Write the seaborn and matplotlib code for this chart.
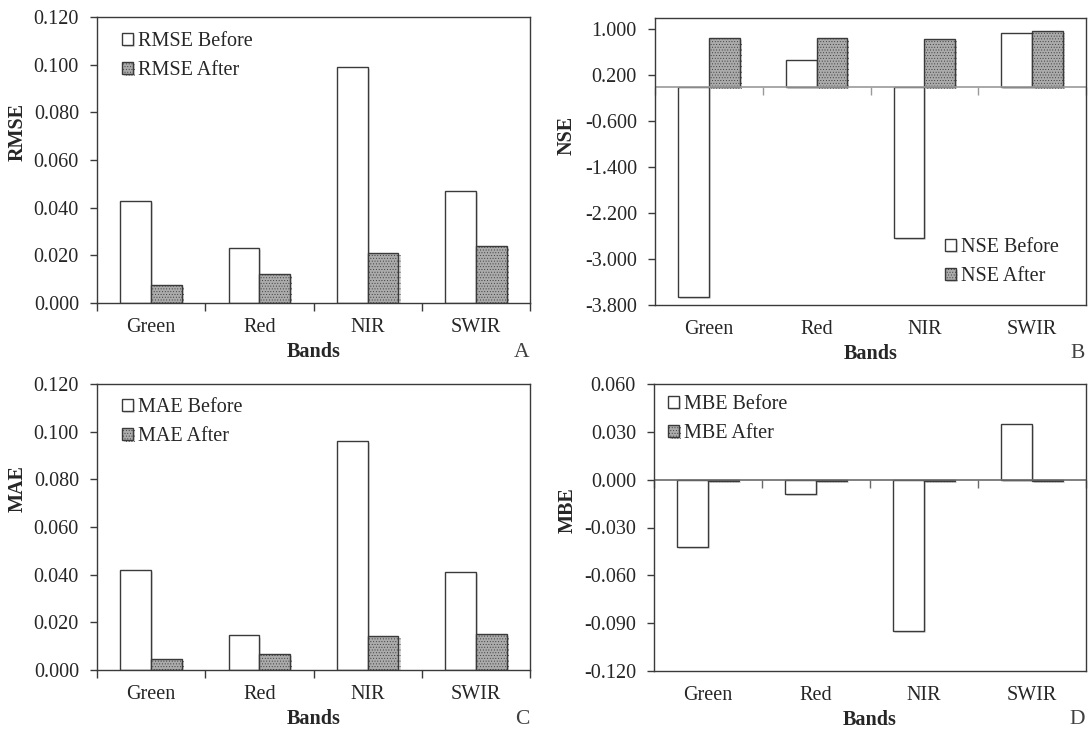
import matplotlib
matplotlib.use("Agg")
import matplotlib.pyplot as plt
import matplotlib.patheffects as pe
import seaborn as sns
import pandas as pd
import numpy as np

bands = ["Green", "Red", "NIR", "SWIR"]

rmse_before = [0.043, 0.023, 0.099, 0.047]
rmse_after = [0.0077, 0.012, 0.021, 0.0238]

nse_before = [-3.66, 0.46, -2.63, 0.93]
nse_after = [0.85, 0.85, 0.84, 0.98]

mae_before = [0.042, 0.0145, 0.096, 0.041]
mae_after = [0.0047, 0.0068, 0.0143, 0.0150]

mbe_before = [-0.042, -0.009, -0.095, 0.035]
mbe_after = [-0.0008, -0.0006, -0.0006, -0.0006]

panels = [
    ("RMSE", rmse_before, rmse_after, (0.0, 0.12), np.arange(0.0, 0.1201, 0.02), "A"),
    ("NSE", nse_before, nse_after, (-3.8, 1.2), np.arange(-3.8, 1.01, 0.8), "B"),
    ("MAE", mae_before, mae_after, (0.0, 0.12), np.arange(0.0, 0.1201, 0.02), "C"),
    ("MBE", mbe_before, mbe_after, (-0.12, 0.06), np.arange(-0.12, 0.0601, 0.03), "D"),
]

sns.set_style("white")
plt.rcParams["font.family"] = ["Liberation Serif", "DejaVu Serif"]
plt.rcParams["axes.unicode_minus"] = False
plt.rcParams["hatch.linewidth"] = 0.35

W, H = 1090, 735
fig = plt.figure(figsize=(W / 100, H / 100), dpi=100)

# axes boxes in pixels: left, right, top, bottom
boxes = [(97, 530, 17, 303), (655, 1086, 18, 305), (97, 530, 384, 670), (654, 1086, 384, 671)]
legend_anchor = [(0.058, 0.948), (0.673, 0.233), (0.058, 0.951), (0.032, 0.962)]
ylabel_pos = [(-0.160, 0.598), (-0.181, 0.592), (-0.160, 0.636), (-0.176, 0.56)]
zero_colors = [None, "#9a9a9a", None, "#6a6a6a"]

edge = "#3a3a3a"
fs = 14.5
shadow = [pe.SimplePatchShadow(offset=(1.5, -1.5), shadow_rgbFace="#c8c8c8", alpha=0.6), pe.Normal()]

for i, (name, before, after, ylim, yticks, letter) in enumerate(panels):
    l, r, t, b = boxes[i]
    ax = fig.add_axes([l / W, (H - b) / H, (r - l) / W, (b - t) / H])
    df = pd.DataFrame({
        "band": bands * 2,
        "series": [f"{name} Before"] * 4 + [f"{name} After"] * 4,
        "value": list(before) + list(after),
    })
    sns.barplot(data=df, x="band", y="value", hue="series",
                palette=["white", "#ababab"], edgecolor=edge, linewidth=1.0,
                width=0.57, saturation=1, legend=False, ax=ax)
    for p in ax.containers[1]:
        p.set_hatch("......")
    for c in ax.containers:
        for p in c:
            p.set_path_effects(shadow)
    ax.set_xlim(-0.5, 3.5)
    ax.set_ylim(*ylim)
    ax.set_yticks(yticks)
    ax.set_yticklabels([f"{v:.3f}" for v in yticks])
    for s in ax.spines.values():
        s.set_visible(True)
        s.set_color(edge)
        s.set_linewidth(1.0)
    ax.tick_params(axis="y", direction="out", length=5, width=1.0, color=edge,
                   pad=8, labelsize=fs, left=True)
    ax.tick_params(axis="x", which="major", length=0, pad=11, labelsize=fs, bottom=True)

    boundaries = [-0.5, 0.5, 1.5, 2.5, 3.5]
    if ylim[0] == 0:
        ax.set_xticks(boundaries, minor=True)
        ax.tick_params(axis="x", which="minor", direction="out", length=6, width=1.0,
                       color=edge, bottom=True)
    else:
        ax.axhline(0, color=zero_colors[i], linewidth=1.2, zorder=1)
        pos = (0 - ylim[0]) / (ylim[1] - ylim[0])
        sec = ax.secondary_xaxis(pos)
        sec.set_alignment("bottom")
        sec.set_xticks(boundaries)
        sec.tick_params(axis="x", direction="out", length=6, width=1.0, color=zero_colors[i],
                        labelbottom=False, labeltop=False)
        for s in sec.spines.values():
            s.set_visible(False)

    ax.set_xlabel("Bands", fontsize=fs, fontweight="bold")
    ax.xaxis.set_label_coords(0.5, -0.135)
    ax.set_ylabel(name, fontsize=fs, fontweight="bold")
    ax.yaxis.set_label_coords(*ylabel_pos[i])

    ax.legend(list(ax.containers), [f"{name} Before", f"{name} After"],
              loc="upper left", bbox_to_anchor=legend_anchor[i], borderaxespad=0,
              borderpad=0, frameon=False, fontsize=fs, handlelength=0.55,
              handleheight=0.55, handletextpad=0.25, labelspacing=0.5)

    fig.text((r - 1) / W, 1 - (b + 49) / H, letter, fontsize=fs + 1, ha="right",
             va="center", color="#404040")

fig.savefig("out.png", dpi=100)
